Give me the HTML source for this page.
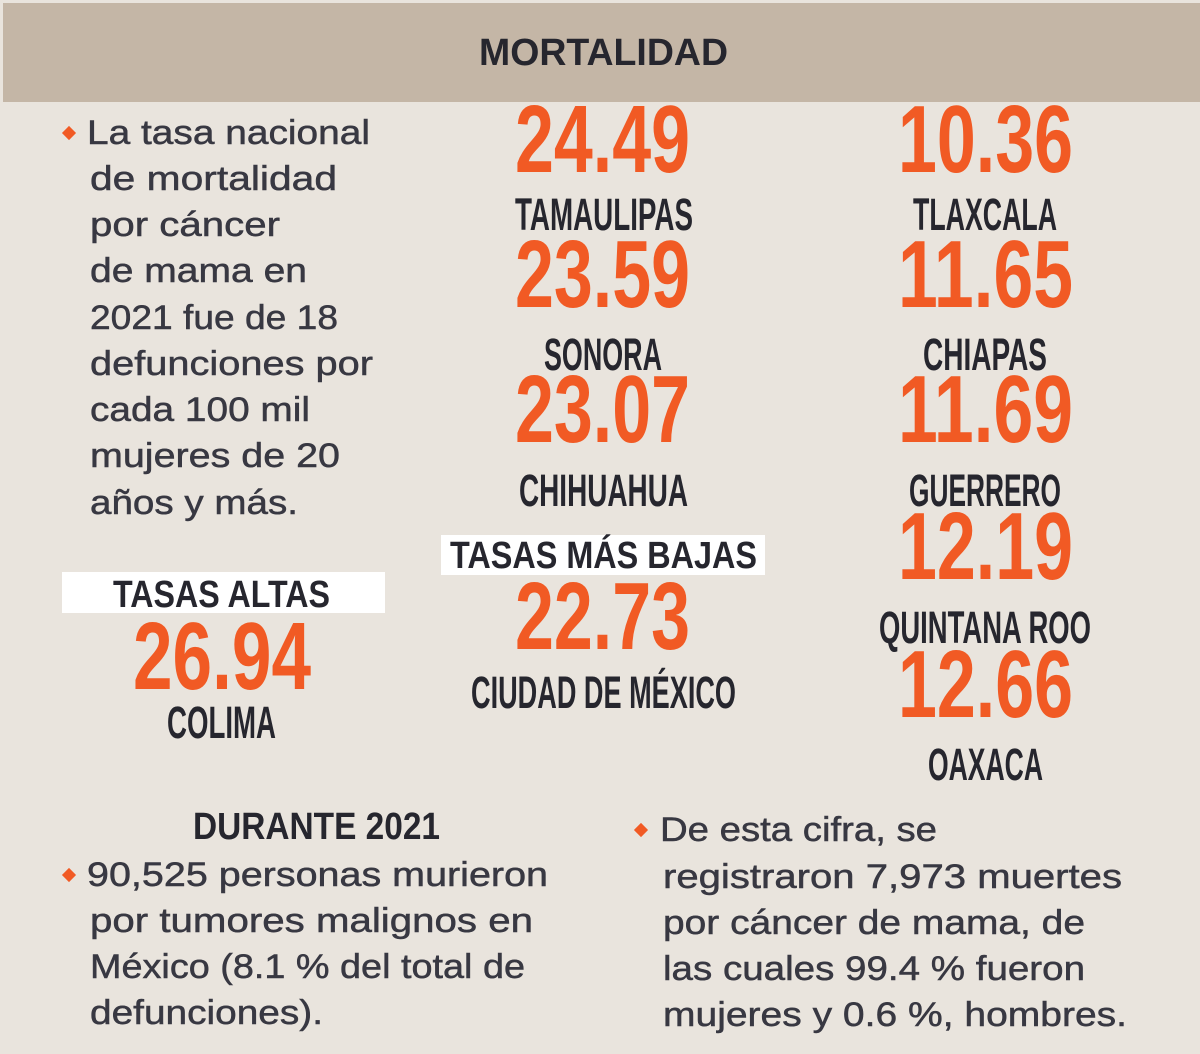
<!DOCTYPE html>
<html><head><meta charset="utf-8"><style>
html,body{margin:0;padding:0}
body{width:1200px;height:1054px;background:#e9e4dd;position:relative;overflow:hidden;font-family:"Liberation Sans",sans-serif}
.bar{position:absolute;left:3px;top:3px;width:1197px;height:99px;background:#c4b6a6}
.box{position:absolute;background:#fff}
.t{position:absolute;white-space:nowrap;line-height:1;transform-origin:0 0}
.n{font-weight:bold;color:#f15a24;font-size:96px}
.s{font-weight:bold;color:#26262e;font-size:45px}
.h{font-weight:bold;color:#26262e;font-size:38px}
.b{color:#383842;font-size:34px;-webkit-text-stroke:0.5px #383842}
.d{position:absolute;width:10px;height:10px;background:#f15a24;transform:rotate(45deg)}
</style></head><body>
<div class="bar"></div>
<div class="box" style="left:62px;top:572px;width:323px;height:41px"></div>
<div class="box" style="left:441px;top:535px;width:324px;height:40px"></div>

<div class="t h" style="left:479px;top:34px;--w:249px">MORTALIDAD</div>

<div class="t n" style="left:515px;top:92px;--w:175px">24.49</div>
<div class="t s" style="left:515px;top:192px;--w:178px">TAMAULIPAS</div>
<div class="t n" style="left:515px;top:227px;--w:175px">23.59</div>
<div class="t s" style="left:544px;top:332px;--w:118px">SONORA</div>
<div class="t n" style="left:515px;top:362px;--w:175px">23.07</div>
<div class="t s" style="left:519px;top:468px;--w:169px">CHIHUAHUA</div>
<div class="t h" style="left:450px;top:537px;--w:307px">TASAS MÁS BAJAS</div>
<div class="t n" style="left:515px;top:569px;--w:175px">22.73</div>
<div class="t s" style="left:471px;top:670px;--w:265px">CIUDAD DE MÉXICO</div>

<div class="t n" style="left:898px;top:92px;--w:175px">10.36</div>
<div class="t s" style="left:913px;top:192px;--w:144px">TLAXCALA</div>
<div class="t n" style="left:898px;top:227px;--w:175px">11.65</div>
<div class="t s" style="left:923px;top:332px;--w:124px">CHIAPAS</div>
<div class="t n" style="left:898px;top:362px;--w:175px">11.69</div>
<div class="t s" style="left:909px;top:468px;--w:152px">GUERRERO</div>
<div class="t n" style="left:898px;top:499px;--w:175px">12.19</div>
<div class="t s" style="left:879px;top:605px;--w:212px">QUINTANA ROO</div>
<div class="t n" style="left:898px;top:637px;--w:175px">12.66</div>
<div class="t s" style="left:928px;top:742px;--w:115px">OAXACA</div>

<div class="t h" style="left:113px;top:576px;--w:217px">TASAS ALTAS</div>
<div class="t n" style="left:133px;top:609px;--w:178px">26.94</div>
<div class="t s" style="left:167px;top:700px;--w:109px">COLIMA</div>

<div class="d" style="left:64px;top:128px"></div>
<div class="t b" style="left:87px;top:116px;--w:283px">La tasa nacional</div>
<div class="t b" style="left:90px;top:162px;--w:247px">de mortalidad</div>
<div class="t b" style="left:90px;top:208px;--w:190px">por cáncer</div>
<div class="t b" style="left:90px;top:254px;--w:217px">de mama en</div>
<div class="t b" style="left:90px;top:301px;--w:248px">2021 fue de 18</div>
<div class="t b" style="left:90px;top:347px;--w:283px">defunciones por</div>
<div class="t b" style="left:90px;top:393px;--w:220px">cada 100 mil</div>
<div class="t b" style="left:90px;top:439px;--w:250px">mujeres de 20</div>
<div class="t b" style="left:90px;top:486px;--w:208px">años y más.</div>

<div class="t h" style="left:193px;top:808px;--w:247px">DURANTE 2021</div>
<div class="d" style="left:64px;top:870px"></div>
<div class="t b" style="left:87px;top:858px;--w:461px">90,525 personas murieron</div>
<div class="t b" style="left:90px;top:904px;--w:443px">por tumores malignos en</div>
<div class="t b" style="left:90px;top:950px;--w:435px">México (8.1 % del total de</div>
<div class="t b" style="left:90px;top:996px;--w:233px">defunciones).</div>

<div class="d" style="left:636px;top:825px"></div>
<div class="t b" style="left:660px;top:813px;--w:277px">De esta cifra, se</div>
<div class="t b" style="left:663px;top:860px;--w:459px">registraron 7,973 muertes</div>
<div class="t b" style="left:663px;top:906px;--w:422px">por cáncer de mama, de</div>
<div class="t b" style="left:663px;top:952px;--w:422px">las cuales 99.4 % fueron</div>
<div class="t b" style="left:663px;top:998px;--w:464px">mujeres y 0.6 %, hombres.</div>

<script>
document.querySelectorAll('.t').forEach(function(e){
  var w=parseFloat(getComputedStyle(e).getPropertyValue('--w'));
  var n=e.getBoundingClientRect().width;
  if(w&&n) e.style.transform='scaleX('+(w/n)+')';
});
</script>
</body></html>
